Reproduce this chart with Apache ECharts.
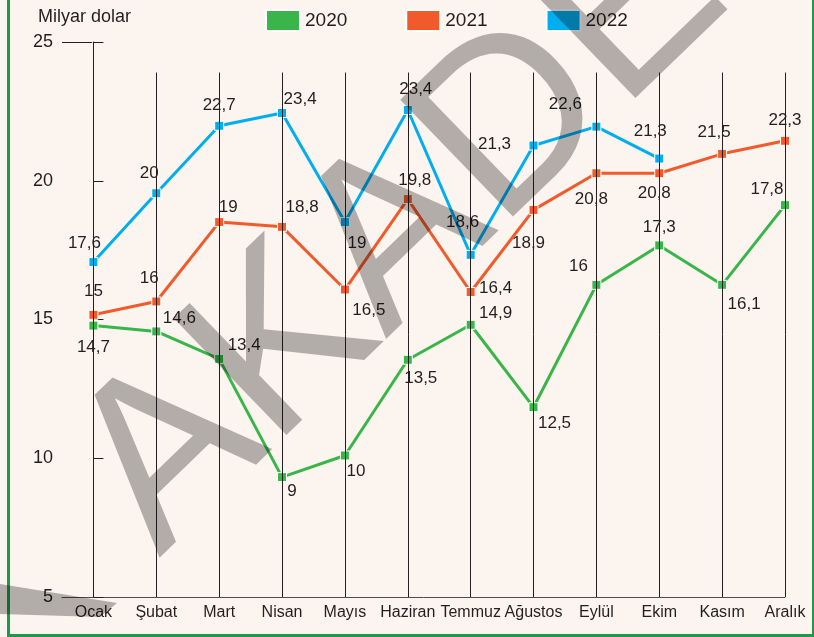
<!DOCTYPE html>
<html>
<head>
<meta charset="utf-8">
<script src="https://cdn.jsdelivr.net/npm/echarts@6/dist/echarts.min.js"></script>
<style>
html, body { margin: 0; padding: 0; background: #fcf4ee; }
#frame {
  position: absolute; left: 7px; top: 0; width: 802px; height: 634px;
  border-left: 3px solid #1b9a48; border-right: 2px solid #1b9a48; border-bottom: 3px solid #1b9a48;
}
#chart { position: absolute; left: 0; top: 0; width: 814px; height: 637px; }
</style>
</head>
<body>
<div id="frame"></div>
<div id="chart"></div>
<script>
// aylar ve yillar
const months = ["Ocak", "Şubat", "Mart", "Nisan", "Mayıs", "Haziran", "Temmuz", "Ağustos", "Eylül", "Ekim", "Kasım", "Aralık"];
const years = ["2020", "2021", "2022"];

// cizgilerin cizildigi degerler (grafikteki yerlerinden okundu)
const v2020 = [14.78, 14.57, 13.58, 9.32, 10.1, 13.55, 14.81, 11.84, 16.25, 17.67, 16.25, 19.12];
const v2021 = [15.17, 15.65, 18.51, 18.34, 16.08, 19.34, 15.99, 18.95, 20.27, 20.27, 20.97, 21.44];
const v2022 = [17.07, 19.55, 21.98, 22.44, 18.51, 22.55, 17.33, 21.27, 21.95, 20.8];

// noktalarin yanindaki yazilar
const lbl2020 = [14.7, 14.6, 13.4, 9, 10, 13.5, 14.9, 12.5, 16, 17.3, 16.1, 17.8];
const lbl2021 = [15, 16, 19, 18.8, 16.5, 19.8, 16.4, 18.9, 20.8, 20.8, 21.5, 22.3];
const lbl2022 = [17.6, 20, 22.7, 23.4, 19, 23.4, 18.6, 21.3, 22.6, 21.3];

// y ekseni
const yMin = 5, yMax = 25, yStep = 5;

// yazi kaydirmalari (px)
const off2020 = [[0, 22], [23, -13], [25, -14], [10, 14], [11, 16], [13, 19], [25, -11], [21, 16], [-18, -19], [0, -18], [22, 19], [-18, -16]];
const off2021 = [[0, -23], [-7, -23], [9, -15], [20, -20], [24, 21], [7, -19], [25, -4], [-5, 33], [-5, 26], [-5, 20], [-8, -22], [0, -20]];
const off2022 = [[-9, -19], [-7, -20], [0, -20], [18, -14], [12, 21], [8, -21], [-8, -33], [-39, -1], [-31, -22], [-9, -27]];

const colors = ["#39b54a", "#f15a2b", "#00aeef"];
const font = "Liberation Sans";
const ink = "#231f20";
const shade = "rgba(0,0,0,0.29)";
const gridLineTop = 23.9;

let myChart = echarts.init(document.getElementById("chart"));

function makeSeries(name, vals, lbls, offs, color) {
  return {
    name: name,
    type: "line",
    z: 3,
    symbol: "rect",
    symbolSize: 9,
    color: color,
    lineStyle: { width: 3, color: color },
    itemStyle: { color: color, borderColor: "#fff", borderWidth: 1 },
    label: {
      show: true,
      position: "inside",
      color: ink,
      fontSize: 17,
      fontFamily: font
    },
    data: vals.map(function(v, i) {
      return {
        value: [i, v],
        label: {
          offset: offs[i],
          formatter: String(lbls[i]).replace(".", ",")
        }
      };
    })
  };
}

let option = {
  animation: false,
  textStyle: { fontFamily: font },
  title: {
    text: "Milyar dolar",
    left: 33,
    top: 3,
    textStyle: { fontSize: 18, fontWeight: "normal", color: ink, fontFamily: font }
  },
  legend: {
    data: years,
    left: 260,
    top: 4,
    icon: "rect",
    itemWidth: 34,
    itemHeight: 21,
    itemGap: 58,
    textStyle: { fontSize: 19, color: ink, fontFamily: font }
  },
  grid: { left: 62, right: 29, top: 42, bottom: 40 },
  xAxis: {
    type: "value",
    min: -0.5,
    max: months.length - 1,
    axisLine: { show: true, lineStyle: { color: "#4d4d4d", width: 1 } },
    axisTick: { show: false },
    splitLine: { show: false },
    axisLabel: {
      customValues: months.map(function(m, i) { return i; }),
      formatter: function(v) { return months[v]; },
      color: ink,
      fontSize: 16,
      fontFamily: font,
      margin: 8
    }
  },
  yAxis: {
    type: "value",
    min: yMin,
    max: yMax,
    interval: yStep,
    axisLine: { show: true, lineStyle: { color: ink, width: 1 } },
    axisTick: { show: true, inside: true, length: 10, lineStyle: { color: ink } },
    splitLine: { show: false },
    axisLabel: { color: ink, fontSize: 18, fontFamily: font, margin: 9 }
  },
  series: [
    {
      type: "line",
      z: 1,
      data: [],
      markLine: {
        silent: true,
        symbol: "none",
        label: { show: false },
        lineStyle: { color: ink, width: 1, type: "solid" },
        data: months.map(function(m, i) {
          return [{ coord: [i, yMin] }, { coord: [i, gridLineTop] }];
        }).concat([[{ coord: [-0.5, yMax] }, { coord: [-0.02, yMax] }]])
      }
    },
    makeSeries(years[0], v2020, lbl2020, off2020, colors[0]),
    makeSeries(years[1], v2021, lbl2021, off2021, colors[1]),
    makeSeries(years[2], v2022, lbl2022, off2022, colors[2])
  ],
  graphic: [
    {
      // filigran
      type: "text",
      x: 196,
      y: 596,
      rotation: 44 * Math.PI / 180,
      z: 100,
      silent: true,
      style: {
        text: "AKADEMİ",
        fontSize: 236,
        fontFamily: font,
        fill: shade,
        align: "left",
        verticalAlign: "bottom"
      }
    },
    {
      // sol alttaki filigran parcasi
      type: "polygon",
      z: 100,
      silent: true,
      shape: { points: [[0, 584], [117, 603], [100, 617], [0, 614]] },
      style: { fill: shade }
    }
  ]
};

myChart.setOption(option);
window.addEventListener("resize", function() { myChart.resize(); });
</script>
</body>
</html>
